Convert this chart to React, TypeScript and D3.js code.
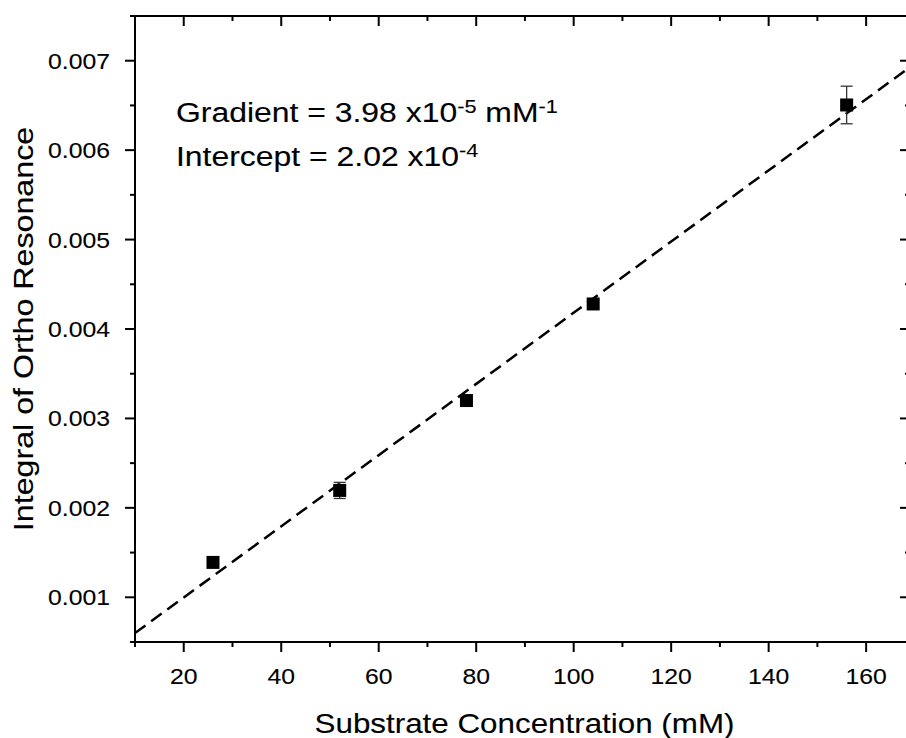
import React from "react";
import * as d3 from "d3";

// data
const concentration = [26, 52, 78, 104, 156];
const integral = [0.00139, 0.002195, 0.0032, 0.00428, 0.006505];
const integralErr = [0.00003, 0.00009, 0.00003, 0.00004, 0.00021];
const gradient = 3.98e-5;
const intercept = 2.02e-4;

const xTicks = [20, 40, 60, 80, 100, 120, 140, 160];
const xMinor = [10, 30, 50, 70, 90, 110, 130, 150, 170];
const yTicks = [0.001, 0.002, 0.003, 0.004, 0.005, 0.006, 0.007];
const yMinor = [0.0005, 0.0015, 0.0025, 0.0035, 0.0045, 0.0055, 0.0065, 0.0075];

const W = 906;
const H = 738;
const m = { left: 135, right: 910, top: 16, bottom: 642 };
const FONT = "Liberation Sans, Arial, Helvetica, sans-serif";

export default function App() {
  const x = d3.scaleLinear().domain([10, 169]).range([m.left, m.right]);
  const y = d3.scaleLinear().domain([0.0005, 0.0075]).range([m.bottom, m.top]);

  const fitLine = d3
    .line<number>()
    .x((d) => x(d))
    .y((d) => y(gradient * d + intercept));

  const major = 10;
  const minor = 5;

  return (
    <svg
      width={W}
      height={H}
      style={{ position: "absolute", left: 0, top: 0, background: "#fff" }}
      fontFamily={FONT}
    >
      <defs>
        <clipPath id="plot-clip">
          <rect x={m.left} y={m.top} width={m.right - m.left} height={m.bottom - m.top} />
        </clipPath>
      </defs>

      {/* fit line */}
      <path
        d={fitLine([10, 169]) || ""}
        clipPath="url(#plot-clip)"
        fill="none"
        stroke="#000"
        strokeWidth={2.5}
        strokeDasharray="13 7"
      />

      {/* error bars */}
      {concentration.map((c, i) => {
        const cx = x(c);
        const y0 = y(integral[i] - integralErr[i]);
        const y1 = y(integral[i] + integralErr[i]);
        return (
          <g key={`err-${i}`} stroke="#333" strokeWidth={1.3}>
            <line x1={cx} x2={cx} y1={y0} y2={y1} />
            <line x1={cx - 6} x2={cx + 6} y1={y0} y2={y0} />
            <line x1={cx - 6} x2={cx + 6} y1={y1} y2={y1} />
          </g>
        );
      })}

      {/* markers */}
      {concentration.map((c, i) => (
        <rect
          key={`pt-${i}`}
          x={x(c) - 6.5}
          y={y(integral[i]) - 6.5}
          width={13}
          height={13}
          fill="#000"
        />
      ))}

      {/* frame */}
      <rect
        x={m.left}
        y={m.top}
        width={m.right - m.left}
        height={m.bottom - m.top}
        fill="none"
        stroke="#000"
        strokeWidth={2}
      />

      {/* ticks: bottom/left outward, top/right inward */}
      <g stroke="#000" strokeWidth={2}>
        {xTicks.map((t) => (
          <g key={`xt-${t}`}>
            <line x1={x(t)} x2={x(t)} y1={m.bottom} y2={m.bottom + major} />
            <line x1={x(t)} x2={x(t)} y1={m.top} y2={m.top + major} />
          </g>
        ))}
        {xMinor
          .filter((t) => x(t) <= m.right)
          .map((t) => (
            <g key={`xm-${t}`}>
              <line x1={x(t)} x2={x(t)} y1={m.bottom} y2={m.bottom + minor} />
              <line x1={x(t)} x2={x(t)} y1={m.top} y2={m.top + minor} />
            </g>
          ))}
        {yTicks.map((t) => (
          <g key={`yt-${t}`}>
            <line x1={m.left - major} x2={m.left} y1={y(t)} y2={y(t)} />
            <line x1={m.right - major} x2={m.right} y1={y(t)} y2={y(t)} />
          </g>
        ))}
        {yMinor.map((t) => (
          <g key={`ym-${t}`}>
            <line x1={m.left - minor} x2={m.left} y1={y(t)} y2={y(t)} />
            <line x1={m.right - minor} x2={m.right} y1={y(t)} y2={y(t)} />
          </g>
        ))}
      </g>

      {/* tick labels */}
      <g fill="#000" stroke="#000" strokeWidth={0.12}>
        {xTicks.map((t) => (
          <text
            key={`xl-${t}`}
            transform={`translate(${x(t)},${m.bottom + 42}) scale(1.1,1)`}
            textAnchor="middle"
            fontSize={22.5}
          >
            {t}
          </text>
        ))}
        {yTicks.map((t) => (
          <text
            key={`yl-${t}`}
            transform={`translate(${m.left - 25},${y(t) + 8}) scale(1.1,1)`}
            textAnchor="end"
            fontSize={22.5}
          >
            {d3.format(".3f")(t)}
          </text>
        ))}

        {/* axis titles */}
        <text
          transform={`translate(${(m.left + m.right) / 2 + 2},733) scale(1.12,1)`}
          textAnchor="middle"
          fontSize={28}
        >
          Substrate Concentration (mM)
        </text>
        <text
          transform={`translate(33,${(m.top + m.bottom) / 2}) rotate(-90) scale(1.15,1)`}
          textAnchor="middle"
          fontSize={28}
        >
          Integral of Ortho Resonance
        </text>

        {/* fit annotation */}
        <text transform="translate(176,121.7) scale(1.14,1)" fontSize={28}>
          Gradient = 3.98 x10
          <tspan fontSize={19} dy={-9}>
            -5
          </tspan>
          <tspan dy={9}> mM</tspan>
          <tspan fontSize={19} dy={-9}>
            -1
          </tspan>
        </text>
        <text transform="translate(176,165.7) scale(1.14,1)" fontSize={28}>
          Intercept = 2.02 x10
          <tspan fontSize={19} dy={-9}>
            -4
          </tspan>
        </text>
      </g>
    </svg>
  );
}
